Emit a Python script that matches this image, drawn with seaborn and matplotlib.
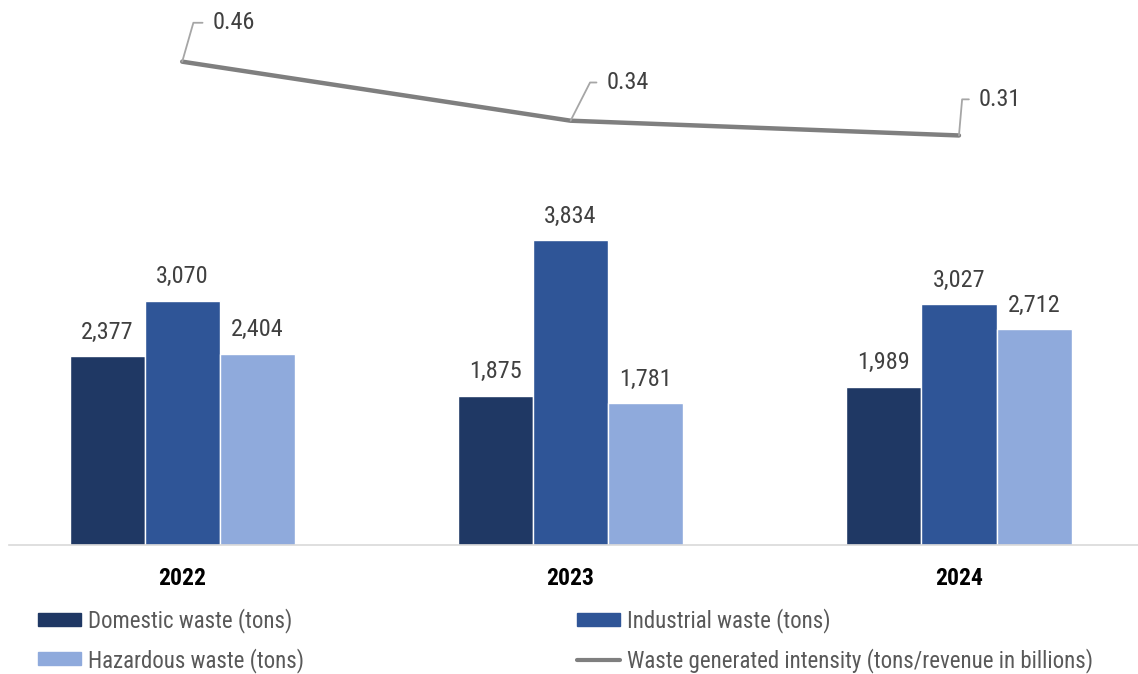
import matplotlib
matplotlib.use("Agg")
import matplotlib.pyplot as plt
import seaborn as sns
import pandas as pd
from matplotlib.patches import Patch
from matplotlib.lines import Line2D
from matplotlib import font_manager

years = ["2022", "2023", "2024"]
series_names = ["Domestic waste (tons)", "Industrial waste (tons)", "Hazardous waste (tons)"]
domestic = [2377, 1875, 1989]
industrial = [3070, 3834, 3027]
hazardous = [2404, 1781, 2712]
intensity = [0.46, 0.34, 0.31]
line_name = "Waste generated intensity (tons/revenue in billions)"

colors = ["#1F3864", "#2F5597", "#8FAADC"]
line_color = "#7F7F7F"

sns.set_theme(style="white")
available = {f.name for f in font_manager.fontManager.ttflist}
narrow = [n for n in ["Liberation Sans Narrow", "Roboto Condensed", "Open Sans Condensed",
                      "DejaVu Sans Condensed"] if n in available]
fam = narrow[:1] + ["Liberation Sans", "DejaVu Sans"]
plt.rcParams["font.family"] = fam

df = pd.DataFrame({
    "year": years * 3,
    "series": [series_names[0]] * 3 + [series_names[1]] * 3 + [series_names[2]] * 3,
    "value": domestic + industrial + hazardous,
})

W, H = 1138, 674
fig = plt.figure(figsize=(W / 100, H / 100), dpi=100)
ax = fig.add_axes([9 / W, 129 / H, 1129 / W, 535 / H])

sns.barplot(data=df, x="year", y="value", hue="series", order=years,
            hue_order=series_names, palette=colors, width=0.58, gap=0,
            saturation=1, ax=ax, legend=False)
for c in ax.containers:
    ax.bar_label(c, labels=[f"{v:,.0f}" for v in c.datavalues], padding=9,
                 fontsize=17.5, color="#404040")

ax.set_xlim(-0.446, 2.461)
ax.set_ylim(0, 6730)
ax.set_xlabel("")
ax.set_ylabel("")
ax.set_yticks([])
ax.tick_params(axis="x", length=0, pad=16)
for lbl in ax.get_xticklabels():
    lbl.set_fontweight("bold")
    lbl.set_fontsize(17)
    lbl.set_color("black")
for s in ["top", "right", "left"]:
    ax.spines[s].set_visible(False)
ax.spines["bottom"].set_color("#D9D9D9")
ax.spines["bottom"].set_linewidth(1.2)

ax2 = ax.twinx()
sns.lineplot(x=[0, 1, 2], y=intensity, ax=ax2, color=line_color, lw=3.2)
ax2.set_ylim(-0.5224, 0.565)
ax2.set_yticks([])
for s in ax2.spines.values():
    s.set_visible(False)

offsets = [(22, 28), (26, 27.5), (14.5, 26)]
angles = [74, 63, 85]
for i, v in enumerate(intensity):
    ax2.annotate(f"{v:.2f}", xy=(i, v), xytext=offsets[i], textcoords="offset points",
                 ha="left", va="center", fontsize=17.5, color="#404040",
                 arrowprops=dict(arrowstyle="-", color="#A6A6A6", lw=1.3,
                                 relpos=(0, 0.5), shrinkA=5, shrinkB=0,
                                 connectionstyle=f"angle,angleA=0,angleB={angles[i]},rad=0"))

handles = [Patch(color=colors[0]), Patch(color=colors[2]),
           Patch(color=colors[1]), Line2D([], [], color=line_color, lw=3)]
labels = [series_names[0], series_names[2], series_names[1], line_name]
leg = fig.legend(handles, labels, loc="upper left", bbox_to_anchor=(38 / W, 1 - 608 / H),
                 ncol=2, frameon=False, fontsize=16.5, handlelength=1.88, handleheight=0.48,
                 handletextpad=0.3, columnspacing=11.9, labelspacing=0.64,
                 borderpad=0, borderaxespad=0)
for t in leg.get_texts():
    t.set_color("#595959")

fig.savefig("out.png", dpi=100)
